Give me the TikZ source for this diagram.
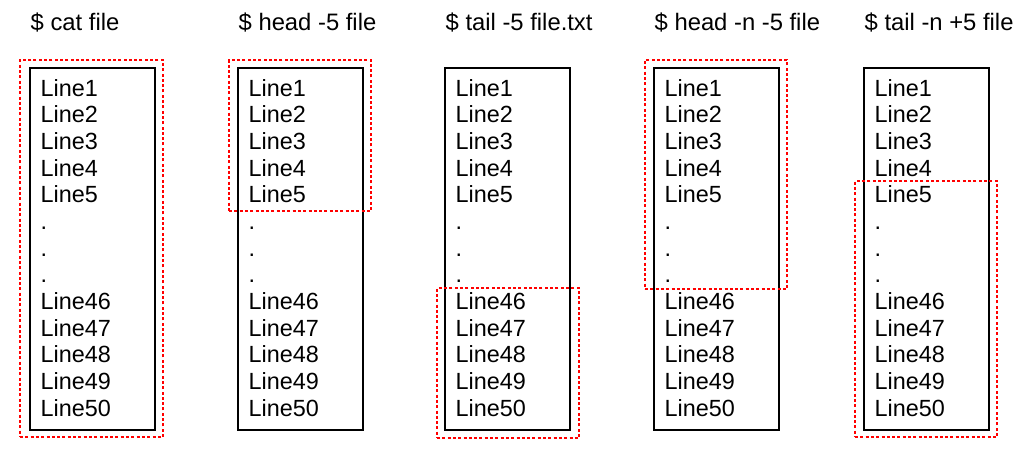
\documentclass[tikz,border=0pt]{standalone}
\usepackage{fontspec}
\setmainfont{Liberation Sans}
\begin{document}
\begin{tikzpicture}[x=1pt,y=-1pt,
  box/.style={draw=black, line width=1.5pt, inner sep=0pt, minimum width=125pt, minimum height=362pt},
  sel/.style={draw=red, line width=1.8pt, dash pattern=on 3pt off 2.3pt, inner sep=0pt},
  txt/.style={anchor=base west, inner sep=0pt, font=\fontsize{23.4}{28}\selectfont},
  ttl/.style={anchor=base west, inner sep=0pt, font=\fontsize{23.8}{28}\selectfont},
]
\useasboundingbox (0,0) rectangle (1030,460);
\foreach \i/\x/\t in {1/30/{\$ cat file}, 2/238/{\$ head -5 file}, 3/445/{\$ tail -5 file.txt}, 4/654/{\$ head -n -5 file}, 5/864/{\$ tail -n +5 file}} {
  \node[box] (b\i) at (\x+62.5, 249) {};
  \node[ttl] (t\i) at (\x+0.5, 31) {\t};
  \foreach \j/\l in {0/Line1, 1/Line2, 2/Line3, 3/Line4, 4/Line5, 5/., 6/., 7/., 8/Line46, 9/Line47, 10/Line48, 11/Line49, 12/Line50}
    \node[txt] (l\i-\j) at (\x+10.5, 96+\j*26.67) {\l};
}
\node[sel, minimum width=143pt, minimum height=377pt] (s1) at (91.5, 248.5) {};
\node[sel, minimum width=142pt, minimum height=151pt] (s2) at (300, 135.5) {};
\node[sel, minimum width=142pt, minimum height=150pt] (s3) at (508, 363) {};
\node[sel, minimum width=142pt, minimum height=229pt] (s4) at (716, 174.5) {};
\node[sel, minimum width=142pt, minimum height=256pt] (s5) at (926, 309) {};
\end{tikzpicture}
\end{document}
